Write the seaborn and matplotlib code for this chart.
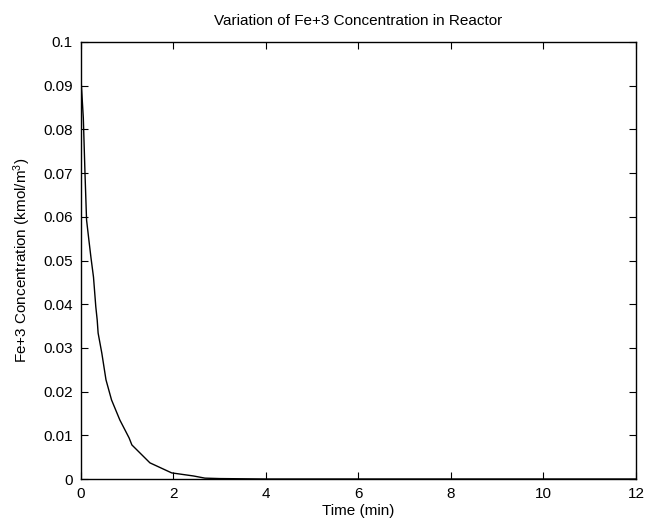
import numpy as np
import pandas as pd
import matplotlib
matplotlib.use("Agg")
import matplotlib.pyplot as plt
import seaborn as sns

# values (time in min, Fe+3 in kmol/m^3)
time_min = [0.0, 0.05, 0.086, 0.12, 0.17, 0.216, 0.27, 0.32, 0.35, 0.37,
            0.45, 0.54, 0.66, 0.84, 1.04, 1.10, 1.49, 1.96, 2.43, 2.68,
            3.0, 4.0, 5.0, 6.0, 7.0, 8.0, 9.0, 10.0, 11.0, 12.0]
fe3_conc = [0.0915, 0.0826, 0.0700, 0.0593, 0.0547, 0.0506, 0.0462, 0.0394,
            0.0364, 0.0334, 0.0288, 0.0227, 0.0181, 0.0135, 0.0094, 0.0078,
            0.0037, 0.0014, 0.0007, 0.0002, 0.0001, 0.0, 0.0, 0.0, 0.0,
            0.0, 0.0, 0.0, 0.0, 0.0]
x_ticks = [0, 2, 4, 6, 8, 10, 12]
y_ticks = [0, 0.01, 0.02, 0.03, 0.04, 0.05, 0.06, 0.07, 0.08, 0.09, 0.1]

df = pd.DataFrame({"t": time_min, "c": fe3_conc})

sns.set_style("ticks")
plt.rcParams['font.family'] = ['Liberation Sans', 'DejaVu Sans']
plt.rcParams['mathtext.default'] = 'regular'
plt.rcParams['text.color'] = 'black'
plt.rcParams['axes.labelcolor'] = 'black'
fs = 11

fig = plt.figure(figsize=(6.46, 5.25), dpi=100)
ax = fig.add_axes([0.1254, 0.0876, 0.859, 0.8324])

sns.lineplot(data=df, x="t", y="c", color="black", linewidth=1.0, ax=ax)

ax.set_xlim(0, 12)
ax.set_ylim(0, 0.1)
ax.set_xticks(x_ticks)
ax.set_yticks(y_ticks)
ax.set_yticklabels(["%g" % v for v in y_ticks])
ax.set_xticklabels(["%g" % v for v in x_ticks])
ax.tick_params(direction="in", top=True, right=True, length=5, width=0.8,
               colors="black", labelsize=fs, pad=6)
for s in ax.spines.values():
    s.set_linewidth(1.0)
    s.set_color("black")

ax.set_title("Variation of Fe+3 Concentration in Reactor", fontsize=fs, pad=12,
             color="black")
ax.set_xlabel("Time (min)", fontsize=fs, labelpad=2)
ax.set_ylabel(r"Fe+3 Concentration (kmol/m$^3$)", fontsize=fs, labelpad=7)

fig.savefig("out.png", dpi=100)
